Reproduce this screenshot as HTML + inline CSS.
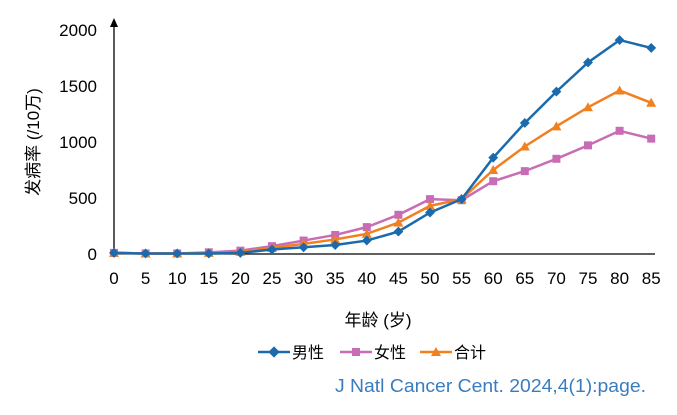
<!DOCTYPE html>
<html><head><meta charset="utf-8"><style>
body{margin:0;background:#fff;width:677px;height:410px;overflow:hidden}
text{font-family:"Liberation Sans","Noto Sans CJK SC",sans-serif}
</style></head><body>
<svg width="677" height="410" xmlns="http://www.w3.org/2000/svg">
<g font-size="17" fill="#000">
<line x1="114" y1="254" x2="114" y2="22" stroke="#000" stroke-width="1.3"/>
<polygon points="114,18 110,27 118,27" fill="#000"/>
<line x1="114" y1="254" x2="655" y2="254" stroke="#000" stroke-width="1.3"/>
<g text-anchor="end">
<text x="97" y="260">0</text><text x="97" y="204">500</text><text x="97" y="148">1000</text><text x="97" y="92">1500</text><text x="97" y="36">2000</text>
</g>
<g text-anchor="middle" id="xl"></g>
<text transform="translate(39,142) rotate(-90)" text-anchor="middle" font-size="17">发病率 (/10万)</text>
<text x="378" y="326" text-anchor="middle" font-size="17">年龄 (岁)</text>
</g>
<g id="s"></g>
<g font-size="16">
<line x1="258" y1="352" x2="290" y2="352" stroke="#1a6aad" stroke-width="2.5"/><rect x="270" y="348" width="8" height="8" fill="#1a6aad" transform="rotate(45 274 352)"/><text x="292" y="358">男性</text>
<line x1="340" y1="352" x2="372" y2="352" stroke="#c86db5" stroke-width="2.5"/><rect x="352" y="348" width="8" height="8" fill="#c86db5"/><text x="374" y="358">女性</text>
<line x1="420" y1="352" x2="452" y2="352" stroke="#f08020" stroke-width="2.5"/><polygon points="436,347 441,356 431,356" fill="#f08020"/><text x="454" y="358">合计</text>
<text x="335" y="392" fill="#3a7cc0" font-size="18" textLength="311" lengthAdjust="spacingAndGlyphs">J Natl Cancer Cent. 2024,4(1):page.</text>
</g>
</svg>
<script>
var xs=i=>114+i*31.6, ys=v=>254-v*0.112;
var xl=document.getElementById('xl'),s='';
for(var i=0;i<18;i++)s+='<text x="'+xs(i)+'" y="284">'+(i*5)+'</text>';
xl.innerHTML=s;
var M=[10,5,5,5,10,40,60,80,120,200,370,490,860,1170,1450,1710,1910,1840];
var F=[10,5,5,15,30,70,120,170,240,350,490,480,650,740,850,970,1100,1030];
var T=[10,5,5,10,20,55,90,130,180,280,430,490,750,960,1140,1310,1460,1350];
function ser(d,c,m){var p=d.map((v,i)=>xs(i)+','+ys(v)).join(' ');var o='<polyline points="'+p+'" fill="none" stroke="'+c+'" stroke-width="2.5"/>';
d.forEach((v,i)=>{var x=xs(i),y=ys(v);
if(m==0)o+='<rect x="'+(x-3.5)+'" y="'+(y-3.5)+'" width="7" height="7" fill="'+c+'" transform="rotate(45 '+x+' '+y+')"/>';
else if(m==1)o+='<rect x="'+(x-4)+'" y="'+(y-4)+'" width="8" height="8" fill="'+c+'"/>';
else o+='<polygon points="'+x+','+(y-5)+' '+(x+5)+','+(y+4)+' '+(x-5)+','+(y+4)+'" fill="'+c+'"/>';});return o;}
document.getElementById('s').innerHTML=ser(F,'#c86db5',1)+ser(T,'#f08020',2)+ser(M,'#1a6aad',0);
</script>
</body></html>
